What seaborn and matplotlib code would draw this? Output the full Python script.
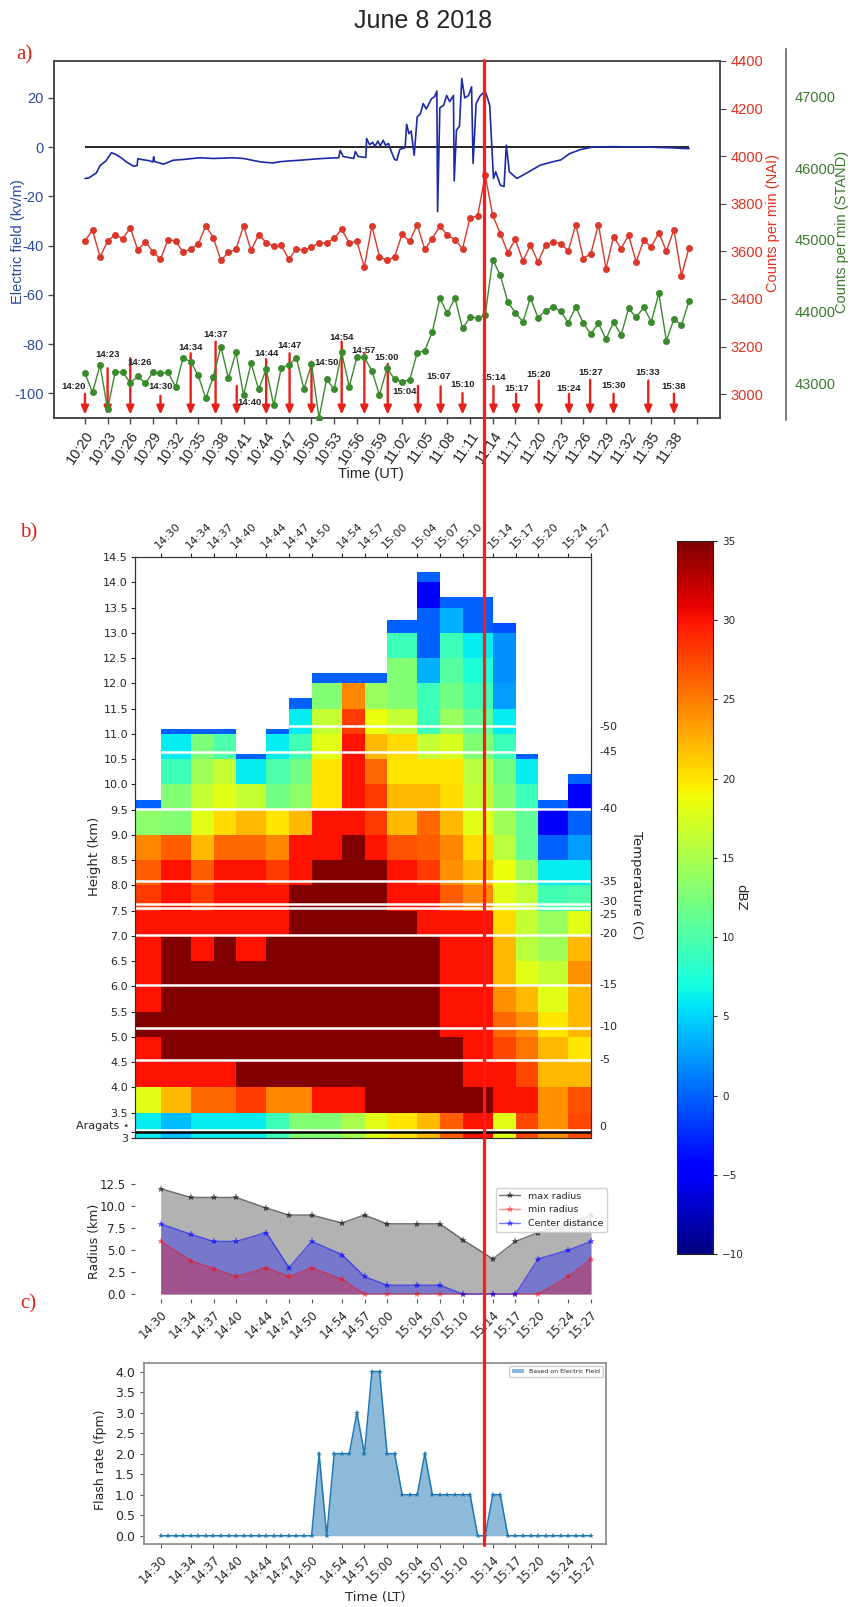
import numpy as np
import matplotlib
matplotlib.use("Agg")
import matplotlib.pyplot as plt
import matplotlib.transforms as mtransforms
import seaborn as sns
from matplotlib.lines import Line2D

sns.set_style("ticks")
plt.rcParams["font.family"] = ["DejaVu Sans"]
plt.rcParams["axes.unicode_minus"] = False

# ---------------------------------------------------------------- data
TITLE = "June 8 2018"

# Panel a: electric field (minutes after 10:20 UT, kV/m)
EF_T = [0, 0.5, 1.5, 2.0, 2.8, 3.5, 4.0, 4.6, 5.5, 6.4, 6.9, 7.0, 7.5, 8.5, 9.0, 9.1, 9.2, 10.4, 11.7, 13.0,
        15.2, 17.0, 19.6, 21.0, 23.1, 24.0, 24.9, 25.8, 27.0, 28.5, 30.5, 32.5, 33.6, 33.8, 34.2, 35.6, 35.8,
        36.2, 37.2, 37.3, 37.7, 38.1, 38.4, 38.8, 39.1, 39.5, 39.8, 40.2, 40.6, 41.0, 41.3, 41.7, 42.4, 42.6,
        42.9, 43.2, 43.6, 44.0, 44.4, 44.8, 45.2, 45.9, 46.3, 46.6, 46.7, 47.0, 47.5, 47.9, 48.3, 48.8, 48.9,
        49.2, 49.6, 49.9, 50.3, 50.8, 51.2, 51.4, 51.8, 52.3, 53.0, 53.3, 53.6, 54.1, 54.4, 55.0, 55.5, 55.8,
        56.2, 57.2, 58.5, 60.3, 62.0, 63.0, 64.2, 65.6, 67.3, 70.0, 75.0, 78.0, 79.0, 80.0]
EF_V = [-12.7, -12.5, -10.5, -7.5, -5.5, -2.3, -2.8, -3.9, -6.0, -7.7, -7.5, -4.7, -5.0, -5.5, -6.0, -3.9,
        -5.8, -6.9, -5.3, -5.0, -4.3, -4.6, -4.3, -4.6, -5.9, -6.2, -6.4, -5.9, -5.6, -5.3, -4.8, -4.4, -4.3,
        -1.3, -3.8, -4.6, -1.8, -3.8, -4.2, 3.5, 1.0, 2.0, 0.3, 2.5, 0.5, 2.8, 0.8, 1.5, -2.0, -5.0, -5.3,
        -0.9, -0.2, 9.3, 5.5, 6.5, -3.3, 12.3, 13.5, 17.7, 15.5, 19.7, 20.5, 22.8, -26.2, 16.0, 17.0, 21.0,
        18.5, 21.0, -13.7, 6.9, 8.5, 27.9, 20.0, 21.0, 24.5, -6.6, 17.6, 20.7, 22.8, 20.0, 17.0, -12.7, -10.0,
        -15.4, -16.0, 0.8, -10.0, -12.7, -10.5, -7.3, -5.9, -5.2, -2.6, -1.0, 0.1, 0.2, 0.0, -0.3, -0.5, -0.6]

# Counts per minute, one value per minute from 10:20 UT
NAI = [3645, 3689, 3577, 3643, 3671, 3653, 3699, 3606, 3640, 3599, 3567, 3650, 3643, 3597, 3610, 3630, 3708,
       3658, 3562, 3597, 3608, 3708, 3604, 3671, 3637, 3622, 3625, 3567, 3611, 3604, 3619, 3636, 3635, 3656,
       3693, 3635, 3642, 3535, 3707, 3578, 3562, 3577, 3672, 3642, 3713, 3608, 3654, 3706, 3668, 3650, 3611,
       3742, 3748, 3920, 3752, 3675, 3595, 3651, 3559, 3626, 3556, 3626, 3640, 3633, 3602, 3713, 3570, 3591,
       3713, 3528, 3661, 3612, 3668, 3556, 3647, 3619, 3678, 3601, 3692, 3498, 3616]
STAND = [43135, 42870, 43251, 42633, 43158, 43150, 43005, 43093, 42995, 43150, 43135, 43150, 42944, 43353,
         43297, 43107, 42786, 43088, 43506, 43065, 43428, 42833, 43274, 42912, 43191, 42689, 43214, 43251,
         43353, 42916, 43265, 42516, 43051, 42912, 43428, 42949, 43358, 43358, 43172, 42833, 43204, 43056,
         43018, 43042, 43423, 43450, 43716, 44181, 43972, 44190, 43763, 43916, 43912, 43944, 44725, 44506,
         44134, 43981, 43855, 44190, 43912, 44009, 44065, 44004, 43841, 44065, 43837, 43684, 43837, 43609,
         43855, 43670, 44042, 43916, 44060, 43855, 44251, 43590, 43893, 43809, 44144]

UT_LABELS = ["10:20", "10:23", "10:26", "10:29", "10:32", "10:35", "10:38", "10:41", "10:44", "10:47",
             "10:50", "10:53", "10:56", "10:59", "11:02", "11:05", "11:08", "11:11", "11:14", "11:17",
             "11:20", "11:23", "11:26", "11:29", "11:32", "11:35", "11:38"]
EF_TICKS = [-100, -80, -60, -40, -20, 0, 20]
NAI_TICKS = [3000, 3200, 3400, 3600, 3800, 4000, 4200, 4400]
STAND_TICKS = [43000, 44000, 45000, 46000, 47000]

# red arrows (radar scan times, LT)
ARROW_LABELS = ["14:20", "14:23", "14:26", "14:30", "14:34", "14:37", "14:40", "14:44", "14:47", "14:50",
                "14:54", "14:57", "15:00", "15:04", "15:07", "15:10", "15:14", "15:17", "15:20", "15:24",
                "15:27", "15:30", "15:33", "15:38"]
ARROW_T = [0, 3, 6, 10, 14, 17.3, 20.1, 24, 27.1, 30, 34, 37, 40.1, 44.1, 47.1, 50, 54.1, 57.1, 60.1, 64.1,
           66.9, 70, 74.6, 78]
ARROW_TOP = [-100.2, -89.8, -85.7, -101, -83.7, -79, -97, -86.1, -83.7, -87.1, -79, -83.7, -88.0, -97, -97.2,
             -99.9, -97, -100.2, -94.8, -100.2, -94.5, -100.2, -94.8, -100.2]
ARROW_LAB_X = [-1.5, 3, 7.2, 10, 14, 17.3, 21.8, 24, 27.1, 32, 34, 36.9, 40.0, 42.3, 46.8, 50, 54.1, 57.1,
               60.1, 64.1, 66.9, 70, 74.5, 78]
ARROW_LAB_Y = [-97.2, -84.1, -87.5, -97.2, -81.3, -75.9, -103.7, -83.7, -80.7, -87.4, -77.3, -82.4, -85.5,
               -99.4, -93.1, -96.5, -93.6, -97.9, -92.2, -97.9, -91.4, -97.0, -91.4, -97.2]

EVENT_T = 52.9  # red vertical marker (minutes after 10:20 UT)

# Panel b: radar reflectivity (dBZ), one list per scan, bins of 0.5 km from 3.0 km upward
LT_LABELS = ["14:30", "14:34", "14:37", "14:40", "14:44", "14:47", "14:50", "14:54", "14:57", "15:00",
             "15:04", "15:07", "15:10", "15:14", "15:17", "15:20", "15:24", "15:27"]
LT_T = [10, 14, 17, 20, 24, 27, 30, 34, 37, 40, 44, 47, 50, 54, 57, 60, 64, 67]
FIRST_EDGE = 6
DBZ = [
    [6, 18, 30, 30, 35, 30, 30, 30, 30, 28, 26.5, 24.5, 13.5, 0],
    [4, 22, 30, 35, 35, 35, 35, 35, 30, 30, 30, 26.5, 13, 13, 9, 6, 0],
    [6, 26, 30, 35, 35, 35, 35, 30, 30, 28, 26.5, 22, 18, 16.5, 14.5, 12.5, 0],
    [6, 26, 30, 35, 35, 35, 35, 35, 30, 30, 30, 26, 20.5, 18, 16.5, 10, 0],
    [6, 28, 35, 35, 35, 35, 35, 30, 30, 30, 30, 26, 22, 16.5, 6, 0],
    [9, 24.5, 35, 35, 35, 35, 35, 35, 30, 30, 28, 24.5, 20, 12, 10, 6, 0],
    [13, 24.5, 35, 35, 35, 35, 35, 35, 35, 35, 30, 30, 22, 13.5, 12, 9.5, 6, 0],
    [13, 30, 35, 35, 35, 35, 35, 35, 35, 35, 35, 30, 30, 20, 20, 18, 16.5, 13, 0],
    [15, 30, 35, 35, 35, 35, 35, 35, 35, 35, 35, 35, 30, 30, 30, 30, 28, 24.5, 0],
    [18, 35, 35, 35, 35, 35, 35, 35, 35, 35, 35, 30, 28, 28, 26, 22, 18.5, 14, 0],
    [20, 35, 35, 35, 35, 35, 35, 35, 35, 30, 30, 27, 22, 22, 20, 20.5, 16.5, 13, 13, 9, 0],
    [22, 35, 35, 35, 35, 35, 35, 35, 30, 30, 28, 26.5, 26, 22, 20, 16.5, 9, 9, 3.5, 0, 0, -5, 0],
    [26.5, 35, 35, 35, 30, 30, 30, 30, 30, 26.5, 24, 24.5, 22, 20.5, 20, 17.5, 14, 12, 10.5, 9, 3.5, 0],
    [30, 35, 30, 30, 30, 30, 30, 30, 30, 24.5, 22, 20.5, 18, 16.5, 16, 13, 11, 9, 7.5, 6, 0, 0],
    [18, 30, 30, 27.5, 26, 24, 22, 22, 20.5, 18, 18.5, 16, 14.5, 13, 12, 9, 6, 2.5, 2, 2, -1],
    [27.5, 30, 27.5, 25.5, 24, 22, 18, 16, 16.5, 16.5, 14.5, 11, 11, 9, 6, 0],
    [24, 24, 22, 22, 20, 18, 16.5, 14.5, 14, 9.5, 6, 0, -5, 0],
    [27.5, 27, 22, 20, 22, 22, 24, 22, 18, 10, 6, 2.5, 0, -5, 0],
]
ECHO_TOP = [9.7, 11.1, 11.1, 11.1, 10.6, 11.1, 11.7, 12.2, 12.2, 12.2, 13.25, 14.2, 13.7, 13.7, 13.2, 10.6,
            9.7, 10.2]

ISO_H = [3.16, 4.55, 5.18, 6.02, 7.02, 7.56, 7.63, 8.08, 9.51, 10.64, 11.15]
ISO_LABEL_H = [3.24, 4.56, 5.21, 6.05, 7.05, 7.43, 7.69, 8.09, 9.53, 10.66, 11.16]
ISO_LABELS = ["0", "-5", "-10", "-15", "-20", "-25", "-30", "-35", "-40", "-45", "-50"]
ARAGATS_H = 3.11
ARAGATS_LABEL = "Aragats \u22c6"
CB_TICKS = [-10, -5, 0, 5, 10, 15, 20, 25, 30, 35]

# radius panel
R_MAX = [12, 11, 11, 11, 9.8, 9, 9, 8.1, 9, 8, 8, 8, 6.2, 4, 6, 7, 8, 9]
R_MIN = [6, 3.8, 2.9, 2, 3, 2, 3, 1.7, 0, 0, 0, 0, 0, 0, 0, 0, 2, 4]
R_CENTER = [8, 6.8, 6, 6, 7, 3, 6, 4.5, 2, 1, 1, 1, 0, 0, 0, 4, 5, 6]
R_TICKS = [0.0, 2.5, 5.0, 7.5, 10.0, 12.5]

# panel c: flash rate (one value per minute from 14:30 LT)
FLASH = [0, 0, 0, 0, 0, 0, 0, 0, 0, 0, 0, 0, 0, 0, 0, 0, 0, 0, 0, 0,
         0, 2, 0, 2, 2, 2, 3, 2, 4, 4, 2, 2, 1, 1, 1, 2, 1, 1, 1, 1,
         1, 1, 0, 0, 1, 1, 0, 0, 0, 0, 0, 0, 0, 0, 0, 0, 0, 0]
FLASH_TICKS = [0.0, 0.5, 1.0, 1.5, 2.0, 2.5, 3.0, 3.5, 4.0]

# ---------------------------------------------------------------- styling
W, H = 854, 1607
SANS_A = "Liberation Sans"
EF_COLOR = "#1c2aa6"
BLUE_LAB = "#2c4a9e"
NAI_COLOR = "#d9382a"
NAI_LAB = "#e0301f"
STAND_COLOR = "#3b8a2e"
STAND_LAB = "#3a7a2a"
ARROW_COLOR = "#e8201a"
SPINE = "#4a4a4a"

fig = plt.figure(figsize=(W / 100, H / 100), dpi=100)


def rect(l, t, r, b):
    return [l / W, 1 - b / H, (r - l) / W, (b - t) / H]


def ftext(x, y, s, **kw):
    kw.setdefault("ha", "center")
    kw.setdefault("va", "center")
    return fig.text(x / W, 1 - y / H, s, **kw)


MIN_T = np.arange(len(NAI))
FLASH_T = np.arange(len(FLASH)) + LT_T[0]

# ---------------------------------------------------------------- panel a
ax_a = fig.add_axes(rect(54, 61, 720, 418))
sns.lineplot(x=EF_T, y=EF_V, ax=ax_a, color=EF_COLOR, linewidth=1.2, estimator=None, sort=False, zorder=3)
ax_a.hlines(0, EF_T[0], EF_T[-1], color="black", lw=1.2, zorder=2)
for t, top, lab, lx, ly in zip(ARROW_T, ARROW_TOP, ARROW_LABELS, ARROW_LAB_X, ARROW_LAB_Y):
    ax_a.annotate("", xy=(t, -108.6), xytext=(t, top),
                  arrowprops=dict(arrowstyle="-|>,head_width=0.22,head_length=0.5", color=ARROW_COLOR,
                                  lw=1.7, shrinkA=0, shrinkB=0), zorder=4)
    ax_a.text(lx, ly, lab, fontsize=6.8, fontweight="bold", ha="center", va="center",
              fontfamily=SANS_A, color="#222222", zorder=5)
ax_a.set_xlim(-4.1, 84.1)
ax_a.set_ylim(-110, 35)
ax_a.set_xticks(np.arange(0, 82, 3))
ax_a.set_xticklabels(UT_LABELS + [""], rotation=55, ha="right", rotation_mode="anchor", fontsize=10.5,
                     fontfamily=SANS_A, color="#222222")
ax_a.set_yticks(EF_TICKS)
ax_a.set_yticklabels([str(v) for v in EF_TICKS], color=BLUE_LAB, fontsize=10.5, fontfamily=SANS_A)
ax_a.set_xlabel("")
ax_a.set_ylabel("")
ax_a.tick_params(axis="both", direction="out", length=4, color=SPINE, width=1)
for s in ax_a.spines.values():
    s.set_color(SPINE)
    s.set_linewidth(1.2)

ax_n = ax_a.twinx()
sns.lineplot(x=MIN_T, y=NAI, ax=ax_n, color=NAI_COLOR, marker="o", markersize=5, markeredgewidth=0,
             linewidth=1.0, zorder=3)
ax_n.set_ylim(2900, 4400)
ax_n.set_yticks(NAI_TICKS)
ax_n.set_yticklabels([str(v) for v in NAI_TICKS], color=NAI_LAB, fontsize=10.5, fontfamily=SANS_A)
ax_n.set_ylabel("")
ax_n.tick_params(axis="y", direction="out", length=4, color=SPINE)
for s in ax_n.spines.values():
    s.set_color(SPINE)
    s.set_linewidth(1.2)

ax_s = fig.add_axes(rect(54, 49, 720, 420))
sns.lineplot(x=MIN_T, y=STAND, ax=ax_s, color=STAND_COLOR, marker="o", markersize=5, markeredgewidth=0,
             linewidth=1.0, zorder=3)
ax_s.set_xlim(-4.1, 84.1)
ax_s.set_ylim(42484, 47665)
ax_s.patch.set_visible(False)
for k in ["top", "left", "bottom"]:
    ax_s.spines[k].set_visible(False)
ax_s.spines["right"].set_position(("axes", 1.099))
ax_s.spines["right"].set_color("#666666")
ax_s.spines["right"].set_linewidth(1.2)
ax_s.xaxis.set_visible(False)
ax_s.yaxis.tick_right()
ax_s.set_yticks(STAND_TICKS)
ax_s.set_yticklabels([str(v) for v in STAND_TICKS], color=STAND_LAB, fontsize=10.5, fontfamily=SANS_A)
ax_s.set_ylabel("")
ax_s.tick_params(axis="y", length=0, pad=6)

ftext(18, 242, "Electric field (kv/m)", rotation=90, color=BLUE_LAB, fontsize=10.5, fontfamily=SANS_A)
ftext(773, 223, "Counts per min (NAI)", rotation=90, color=NAI_LAB, fontsize=10.5, fontfamily=SANS_A)
ftext(842, 232, "Counts per min (STAND)", rotation=90, color=STAND_LAB, fontsize=10.5, fontfamily=SANS_A)
ftext(371, 474, "Time (UT)", fontsize=10.5, fontfamily=SANS_A, color="#222222")

# ---------------------------------------------------------------- panel b
ax_b = fig.add_axes(rect(135, 557, 591, 1138))
x_edges = np.array([FIRST_EDGE] + LT_T, dtype=float)
y_edges = np.arange(3.0, 14.5001, 0.05)
yc = 0.5 * (y_edges[:-1] + y_edges[1:])
Z = np.full((len(yc), len(DBZ)), np.nan)
for j, (vals, top) in enumerate(zip(DBZ, ECHO_TOP)):
    for i, y in enumerate(yc):
        k = int((y - 3.0) // 0.5)
        if k < len(vals) and y < top:
            Z[i, j] = vals[k]
mesh = ax_b.pcolormesh(x_edges, y_edges, np.ma.masked_invalid(Z), cmap="jet", vmin=-10, vmax=35,
                       shading="flat")
for h in ISO_H:
    ax_b.axhline(h, color="white", lw=1.8, zorder=3)
ax_b.axhline(ARAGATS_H, color="black", lw=1.8, zorder=3)
ax_b.set_xlim(6.6, 67)
ax_b.set_ylim(3, 14.5)
ax_b.xaxis.tick_top()
ax_b.set_xticks(LT_T)
ax_b.set_xticklabels(LT_LABELS, rotation=45, ha="left", rotation_mode="anchor", fontsize=8)
ax_b.tick_params(axis="x", top=True, bottom=False, labeltop=True, labelbottom=False, length=3, pad=2)
h_ticks = [3.0, ARAGATS_H] + [round(v, 1) for v in np.arange(3.5, 14.51, 0.5)]
h_labels = ["3", ""] + [f"{v:.1f}" for v in np.arange(3.5, 14.51, 0.5)]
ax_b.set_yticks(h_ticks)
ax_b.set_yticklabels(h_labels, fontsize=8)
ax_b.tick_params(axis="y", length=3, pad=2)
for s in ax_b.spines.values():
    s.set_color("#333333")
blend = mtransforms.blended_transform_factory(ax_b.transAxes, ax_b.transData)
ax_b.text(-0.012, 3.14, ARAGATS_LABEL, transform=blend, ha="right", va="bottom", fontsize=8)

ax_t = ax_b.twinx()
ax_t.set_ylim(3, 14.5)
ax_t.set_yticks(ISO_LABEL_H)
ax_t.set_yticklabels(ISO_LABELS, fontsize=8)
ax_t.tick_params(axis="y", length=0, pad=6)
for s in ax_t.spines.values():
    s.set_color("#333333")

ftext(95, 856, "Height (km)", rotation=90, fontsize=9.5)
ftext(636, 885, "Temperature (C)", rotation=270, fontsize=9.5)

cax = fig.add_axes(rect(677, 541, 713, 1254))
cb = fig.colorbar(mesh, cax=cax)
cb.set_ticks(CB_TICKS)
cb.set_ticklabels([str(v).replace("-", "\u2212") for v in CB_TICKS])
cb.ax.tick_params(labelsize=7.5, length=3)
cb.outline.set_linewidth(0.8)
ftext(741, 897, "dBZ", rotation=270, fontsize=9.5)

# ---------------------------------------------------------------- radius panel
ax_r = fig.add_axes(rect(135, 1183.4, 611, 1299.3))
ax_r.fill_between(LT_T, R_MAX, color="black", alpha=0.3, lw=0)
ax_r.fill_between(LT_T, R_CENTER, color="blue", alpha=0.33, lw=0)
ax_r.fill_between(LT_T, R_MIN, color="red", alpha=0.3, lw=0)
sns.lineplot(x=LT_T, y=R_MAX, ax=ax_r, color="black", alpha=0.55, marker="*", markersize=6,
             markeredgewidth=0, linewidth=1.0, label="max radius")
sns.lineplot(x=LT_T, y=R_MIN, ax=ax_r, color="red", alpha=0.45, marker="*", markersize=6,
             markeredgewidth=0, linewidth=1.0, label="min radius")
sns.lineplot(x=LT_T, y=R_CENTER, ax=ax_r, color="blue", alpha=0.55, marker="*", markersize=6,
             markeredgewidth=0, linewidth=1.0, label="Center distance")
ax_r.set_xlim(6.6, 69.65)
ax_r.set_ylim(-0.6, 12.6)
for s in ax_r.spines.values():
    s.set_visible(False)
ax_r.set_xticks(LT_T)
ax_r.set_xticklabels(LT_LABELS, rotation=45, ha="right", rotation_mode="anchor", fontsize=8.5)
ax_r.set_yticks(R_TICKS)
ax_r.set_yticklabels([f"{v:.1f}" for v in R_TICKS], fontsize=8.5)
ax_r.tick_params(axis="both", length=3, color="#555555")
ax_r.set_xlabel("")
ax_r.set_ylabel("")
ax_r.legend(loc="upper right", bbox_to_anchor=((607 - 135) / 476, (1299.3 - 1188) / 115.9), fontsize=6.8,
            frameon=True, framealpha=0.85, edgecolor="#cccccc", borderaxespad=0, handlelength=2.2)
ftext(95, 1241, "Radius (km)", rotation=90, fontsize=9)

# ---------------------------------------------------------------- panel c (flash rate)
ax_f = fig.add_axes(rect(144, 1363.3, 606, 1544))
ax_f.fill_between(FLASH_T, FLASH, color="C0", alpha=0.5, lw=0, label="Based on Electric Field")
sns.lineplot(x=FLASH_T, y=FLASH, ax=ax_f, color="C0", marker="*", markersize=4, markeredgewidth=0,
             linewidth=1.1)
ax_f.set_xlim(7.8, 69.0)
ax_f.set_ylim(-0.2, 4.2)
ax_f.set_xticks(LT_T)
ax_f.set_xticklabels(LT_LABELS, rotation=45, ha="right", rotation_mode="anchor", fontsize=8.5)
ax_f.set_yticks(FLASH_TICKS)
ax_f.set_yticklabels([f"{v:.1f}" for v in FLASH_TICKS], fontsize=9)
ax_f.tick_params(axis="both", length=3, color="#555555")
ax_f.set_xlabel("")
ax_f.set_ylabel("")
for s in ax_f.spines.values():
    s.set_color("#888888")
    s.set_linewidth(1.2)
ax_f.legend(loc="upper right", fontsize=4.5, frameon=True, edgecolor="#cccccc", framealpha=1)
ftext(101, 1460, "Flash rate (fpm)", rotation=90, fontsize=9)
ftext(375, 1597, "Time (LT)", fontsize=9.5)

# ---------------------------------------------------------------- annotations
px = ax_a.transData.transform((EVENT_T, 0))[0] / W
fig.add_artist(Line2D([px, px], [1 - 60 / H, 1 - 1545 / H], transform=fig.transFigure, color="#ff1a1a",
                      lw=2.3, zorder=10))

ftext(423, 21, TITLE, fontsize=18, fontfamily=SANS_A)
for lab, (x, y) in zip(["a)", "b)", "c)"], [(24, 55), (29, 533), (28, 1304)]):
    ftext(x, y, lab, fontsize=15, color="#e0201a", fontfamily="Liberation Serif")

fig.savefig("out.png", dpi=100)
